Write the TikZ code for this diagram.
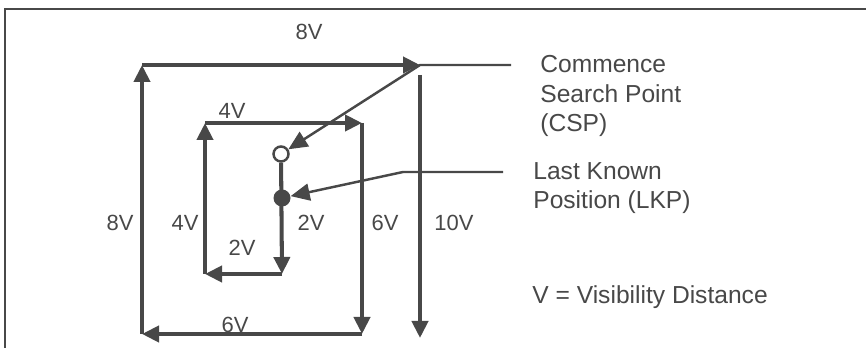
\documentclass[tikz,border=0pt]{standalone}
\usepackage{fontspec}
\setmainfont{Liberation Sans}
\usetikzlibrary{arrows.meta, positioning}
\definecolor{ink}{RGB}{72, 72, 72}

\begin{document}
\begin{tikzpicture}[
    leg/.style={draw=ink, line width=2.3pt, -{Triangle[length=0.34cm, width=0.32cm]}},
    leader/.style={draw=ink, line width=1.4pt},
    tag/.style={text=ink, font=\fontsize{12.5}{15}\selectfont},
    note/.style={text=ink, anchor=west, align=left, font=\fontsize{14}{16.8}\selectfont, inner sep=0pt},
]
    \useasboundingbox (0,0) rectangle (17.32,6.96);
    % frame
    \draw[ink, line width=1.6pt] (0.10,0) |- (17.32,6.78);

    % search points
    \node[circle, draw=ink, line width=1.4pt, fill=white, minimum size=0.3cm, inner sep=0pt] (csp) at (5.62,3.88) {};
    \coordinate (a) at (5.64,1.48);
    \coordinate (b) at (4.10,1.48);
    \coordinate (c) at (4.10,4.50);
    \coordinate (d) at (7.24,4.50);
    \coordinate (e) at (7.24,0.28);
    \coordinate (f) at (2.84,0.28);
    \coordinate (g) at (2.84,5.66);
    \coordinate (h) at (8.40,5.66);
    \coordinate (k1) at (8.40,5.46);
    \coordinate (k2) at (8.40,0.20);

    % expanding square
    \draw[leg] (csp) -- (a);
    \draw[leg] (a) -- (b);
    \draw[leg] (b) -- (c);
    \draw[leg] (c) -- (d);
    \draw[leg] (d) -- (e);
    \draw[leg] (e) -- (f);
    \draw[leg] (f) -- (g);
    \draw[leg] (g) -- (h);
    \draw[leg] (k1) -- (k2);
    \node[circle, fill=ink, minimum size=0.34cm, inner sep=0pt] (lkp) at (5.64,3.00) {};

    % leg lengths
    \node[tag] (t8top) at (6.18,6.32) {8V};
    \node[tag] (t4top) at (4.64,4.74) {4V};
    \node[tag] (t8) at (2.40,2.50) {8V};
    \node[tag] (t4) at (3.70,2.50) {4V};
    \node[tag] (t2) at (6.22,2.50) {2V};
    \node[tag] (t6) at (7.70,2.50) {6V};
    \node[tag] (t10) at (9.08,2.50) {10V};
    \node[tag] (t2low) at (4.84,2.00) {2V};
    \node[tag] (t6low) at (4.70,0.46) {6V};

    % notes
    \node[note] (cspnote) at (10.80,5.04) {Commence\\Search Point\\(CSP)};
    \node[note] (lkpnote) at (10.66,3.20) {Last Known\\Position (LKP)};
    \node[note] (vnote) at (10.64,1.02) {V = Visibility Distance};

    \coordinate (cspend) at (10.22,5.66);
    \coordinate (lkpend) at (10.06,3.52);
    \coordinate (lkpbend) at (8.06,3.52);
    \draw[leader, -{Triangle[length=0.38cm, width=0.34cm]}] (cspend) -- (h) -- (csp);
    \draw[leader, -{Triangle[length=0.38cm, width=0.34cm]}] (lkpend) -- (lkpbend) -- (lkp);
\end{tikzpicture}
\end{document}
